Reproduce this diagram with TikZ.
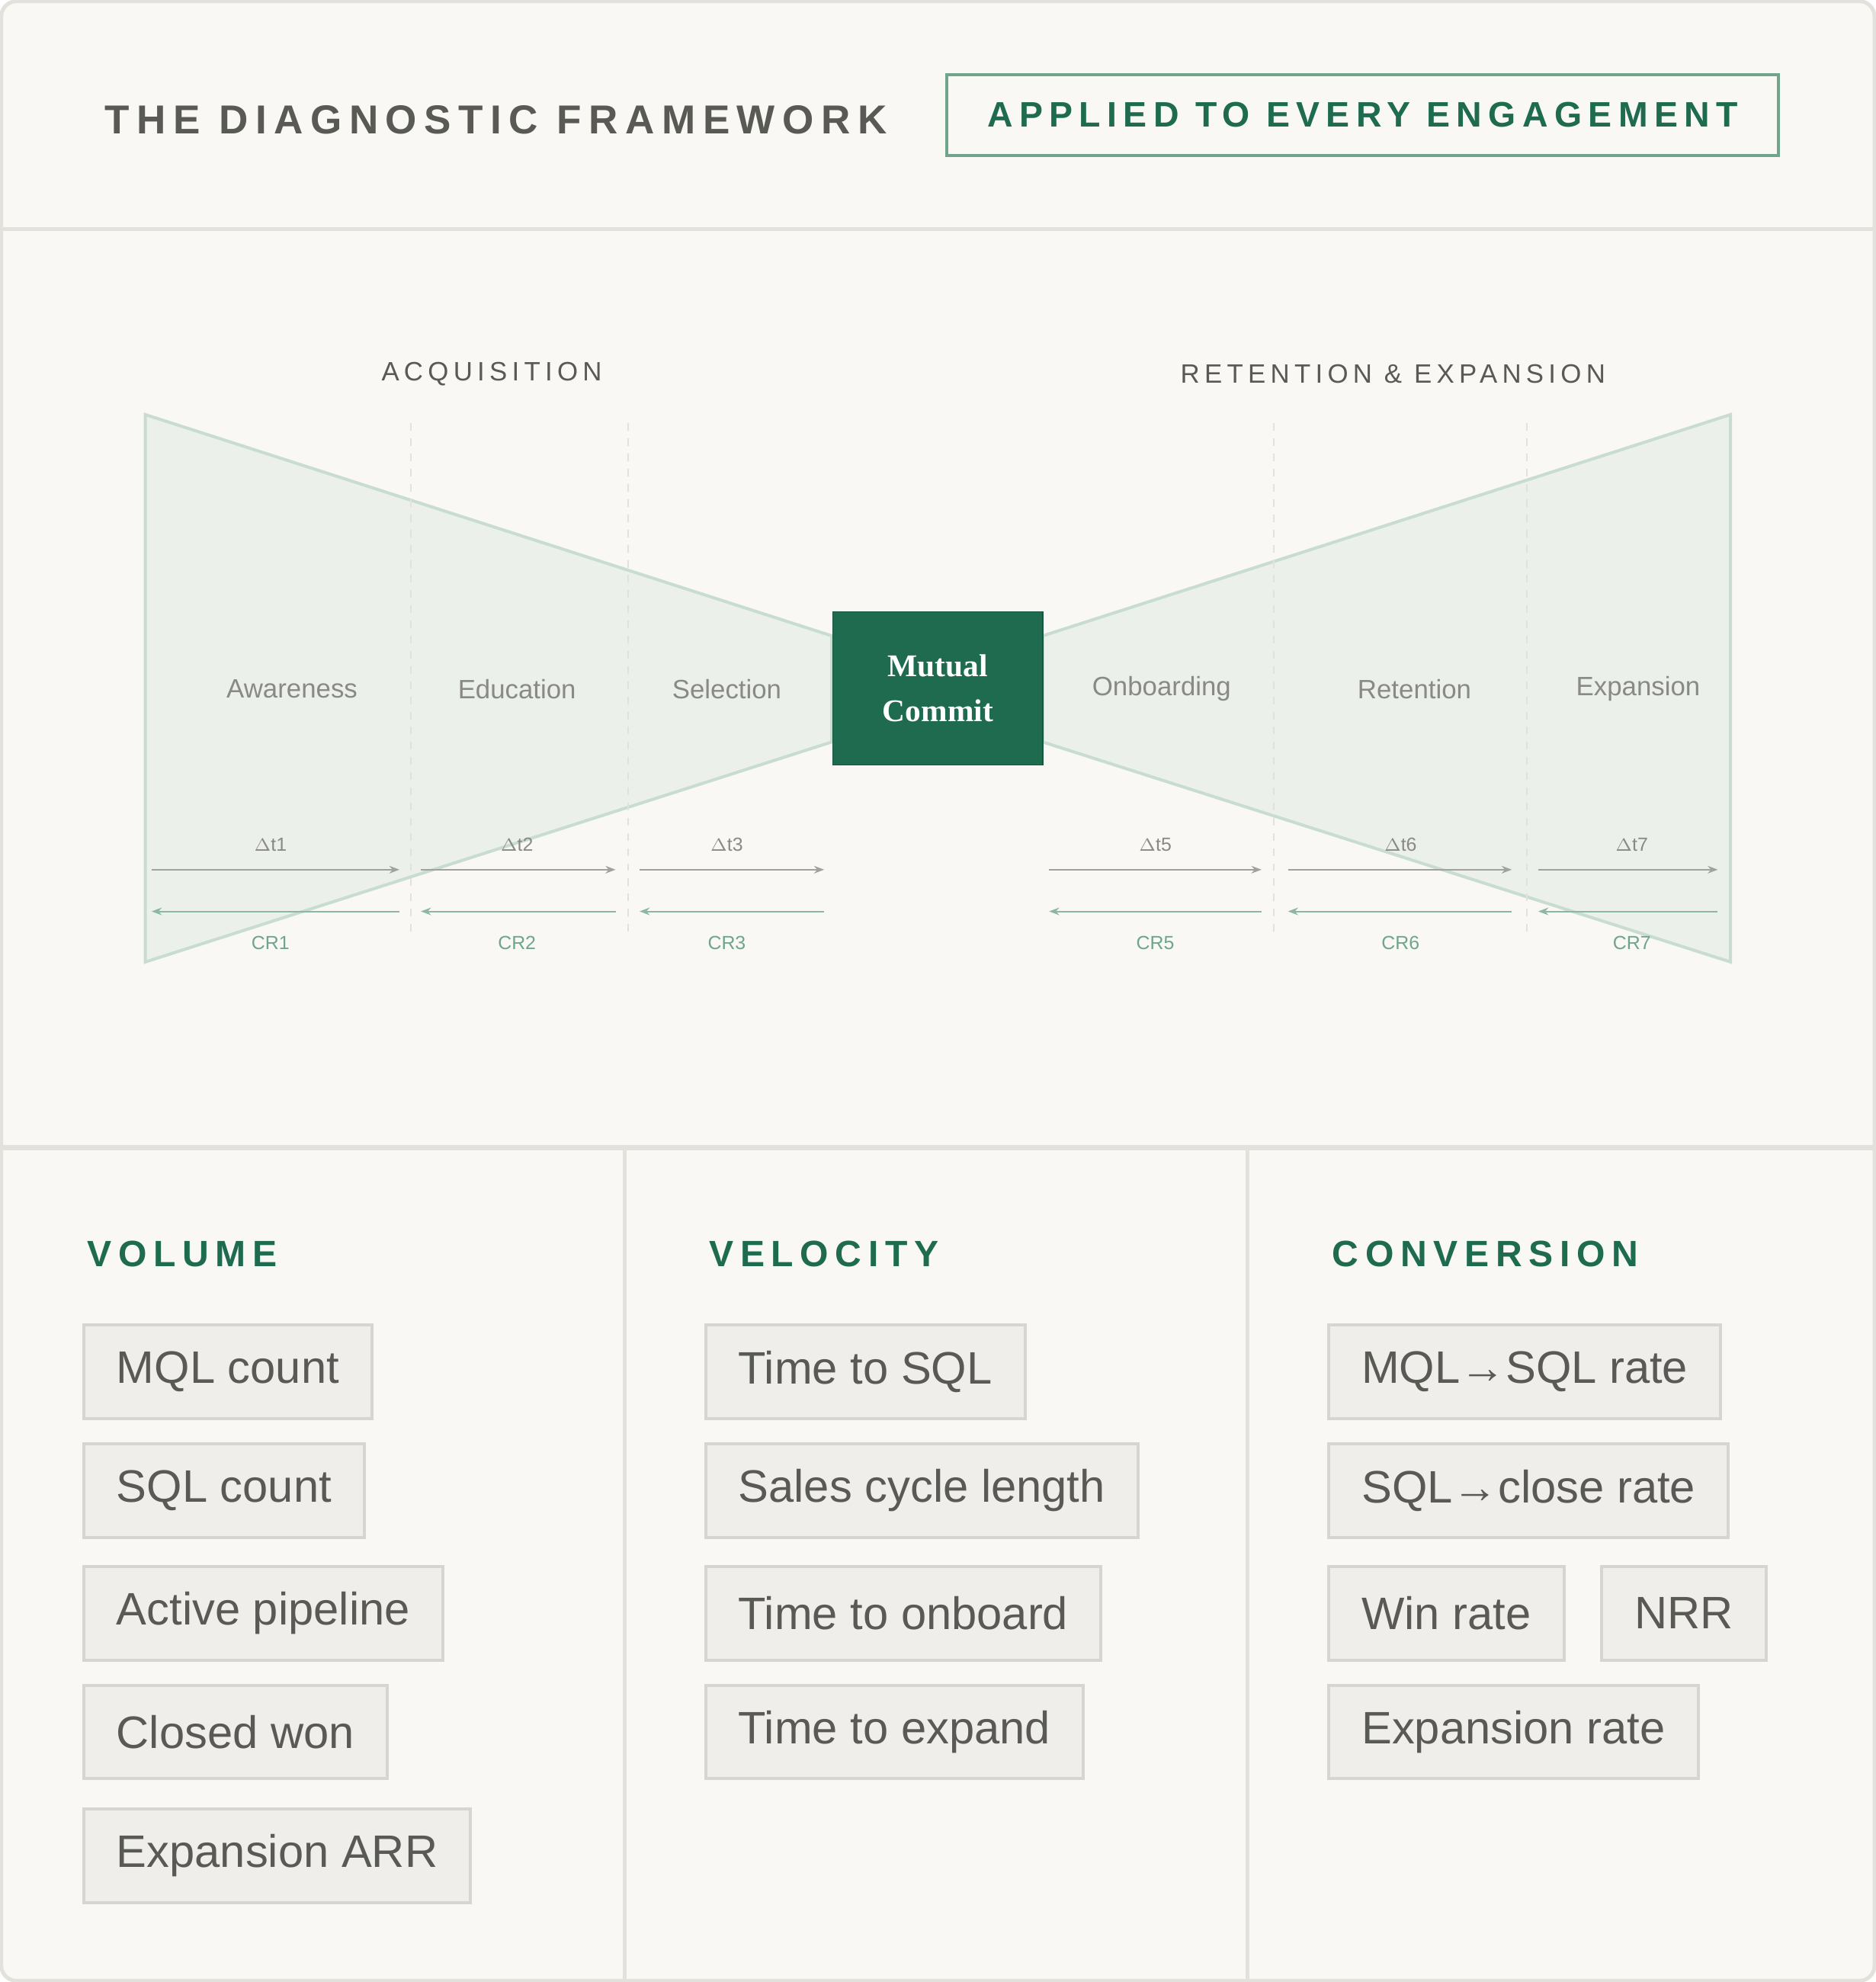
\documentclass[tikz,border=0pt]{standalone}
\usepackage{fontspec}
\setmainfont{Liberation Sans}
\newfontfamily\spaced[LetterSpace=18]{Liberation Sans}
\newfontfamily\spacedb[LetterSpace=18]{Liberation Sans Bold}
\newfontfamily\serifF{Liberation Serif}
\usetikzlibrary{arrows.meta}
\definecolor{bg}{HTML}{F9F8F5}
\definecolor{frame}{HTML}{E2E1DC}
\definecolor{dgreen}{HTML}{1E6B4F}
\definecolor{tgray}{HTML}{5A5A55}
\definecolor{lgray}{HTML}{8A8A85}
\definecolor{fun}{HTML}{E6EEE7}
\definecolor{funl}{HTML}{C8DDCF}
\definecolor{crg}{HTML}{6FA58A}
\definecolor{boxf}{HTML}{EFEEEB}
\definecolor{boxd}{HTML}{D6D5D0}
\tikzset{
 metric/.style={draw=boxd,line width=1.2pt,fill=boxf,anchor=north west,minimum height=37pt,inner xsep=13pt,font=\fontsize{18}{18}\selectfont,text=tgray},
 stage/.style={font=\fontsize{10.5}{12}\selectfont,text=lgray},
 dtl/.style={font=\fontsize{7.5}{9}\selectfont,text=lgray},
 crl/.style={font=\fontsize{7.5}{9}\selectfont,text=crg},
 dta/.style={draw=lgray!80,line width=0.6pt,-{Stealth[length=4pt]}},
 cra/.style={draw=crg!80,line width=0.6pt,-{Stealth[length=4pt]}},
 hdr/.style={anchor=west,font=\spacedb\fontsize{14.5}{16}\selectfont,text=dgreen},
 sub/.style={font=\spaced\fontsize{10.5}{12}\selectfont,text=tgray},
 dsh/.style={draw=frame,dashed,line width=0.6pt}
}
\begin{document}
\begin{tikzpicture}[x=0.5pt,y=-0.5pt]
\useasboundingbox (0,0) rectangle (1484,1568);
\draw[fill=bg,draw=frame,line width=1.5pt,rounded corners=6pt] (1,1) rectangle (1483,1567);
\draw[frame,line width=1.5pt] (1,181) -- (1483,181);
\draw[frame,line width=2pt] (1,908) -- (1483,908);
\draw[frame,line width=1.5pt] (494,908) -- (494,1567) (987,908) -- (987,1567);
\node[anchor=west,font=\spaced\fontsize{16}{18}\selectfont\bfseries,text=tgray] (title) at (76,95) {THE DIAGNOSTIC FRAMEWORK};
\node[draw=crg,line width=1.2pt,fill=bg,minimum width=329pt,minimum height=32pt,font=\spacedb\fontsize{14}{16}\selectfont,text=dgreen] (tag) at (1078,91) {APPLIED TO EVERY ENGAGEMENT};
\node[sub] (acq) at (389,296) {ACQUISITION};
\node[sub] (ret) at (1102,296) {RETENTION \& EXPANSION};
\draw[fill=fun,draw=funl,line width=1.2pt,fill opacity=0.7] (115,328) -- (658,503) -- (658,587) -- (115,761) -- cycle;
\draw[fill=fun,draw=funl,line width=1.2pt,fill opacity=0.7] (825,503) -- (1369,328) -- (1369,761) -- (825,587) -- cycle;
\foreach \x in {325,497,1008,1208} \draw[dsh] (\x,335) -- (\x,742);
\node[fill=dgreen,draw=dgreen!80!black,minimum width=83pt,minimum height=60.5pt,align=center,text=white,font=\serifF\fontsize{12.5}{18}\selectfont\bfseries] (mc) at (742,544.5) {Mutual\\Commit};
\node[stage] (s1) at (231,545) {Awareness};
\node[stage] (s2) at (409,545) {Education};
\node[stage] (s3) at (575,545) {Selection};
\node[stage] (s5) at (919,545) {Onboarding};
\node[stage] (s6) at (1119,545) {Retention};
\node[stage] (s7) at (1296,545) {Expansion};
\foreach \a/\b/\c/\n in {120/316/214/1,333/487/409/2,506/652/575/3,830/998/914/5,1019/1196/1108/6,1217/1359/1291/7}{
 \coordinate (da\n) at (\a,688); \coordinate (db\n) at (\b,688);
 \coordinate (ca\n) at (\b,721); \coordinate (cb\n) at (\a,721);
 \draw[dta] (da\n) -- (db\n);
 \draw[cra] (ca\n) -- (cb\n);
 \node[dtl] (dl\n) at (\c,668) {$\Delta$t\n};
 \node[crl] (cl\n) at (\c,746) {CR\n};
}
\node[hdr] (h1) at (62,992) {VOLUME};
\node[hdr] (h2) at (554,992) {VELOCITY};
\node[hdr] (h3) at (1047,992) {CONVERSION};
\node[metric] (v1) at (65,1047) {MQL count};
\node[metric] (v2) at (65,1141) {SQL count};
\node[metric] (v3) at (65,1238) {Active pipeline};
\node[metric] (v4) at (65,1332) {Closed won};
\node[metric] (v5) at (65,1430) {Expansion ARR};
\node[metric] (w1) at (557,1047) {Time to SQL};
\node[metric] (w2) at (557,1141) {Sales cycle length};
\node[metric] (w3) at (557,1238) {Time to onboard};
\node[metric] (w4) at (557,1332) {Time to expand};
\node[metric] (c1) at (1050,1047) {MQL→SQL rate};
\node[metric] (c2) at (1050,1141) {SQL→close rate};
\node[metric] (c3) at (1050,1238) {Win rate};
\node[metric] (c4) at (1266,1238) {NRR};
\node[metric] (c5) at (1050,1332) {Expansion rate};
\end{tikzpicture}
\end{document}
